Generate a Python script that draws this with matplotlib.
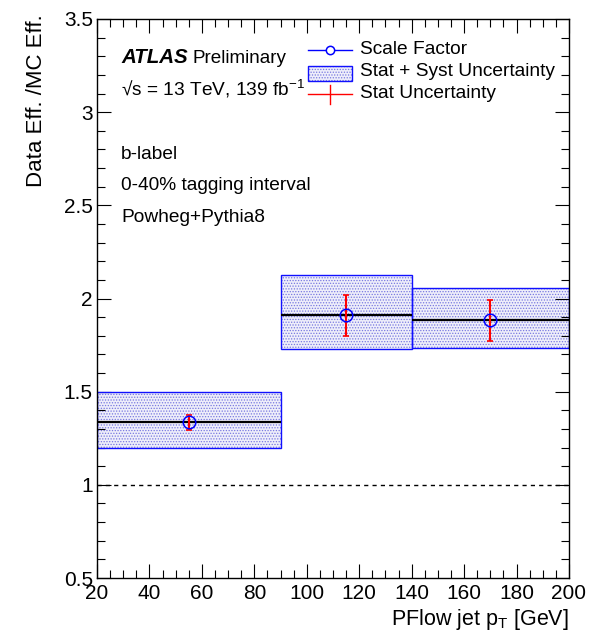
import matplotlib
matplotlib.use("Agg")
import matplotlib.pyplot as plt
from matplotlib.lines import Line2D
from matplotlib.patches import Rectangle
import numpy as np

plt.rcParams['font.family'] = ['Liberation Sans', 'DejaVu Sans']
plt.rcParams['hatch.linewidth'] = 0.6

# ---- data ----
bin_edges = [20, 90, 140, 200]
scale_factor = [1.335, 1.910, 1.883]
total_up = [1.496, 2.125, 2.055]
total_down = [1.200, 1.730, 1.737]
stat_err = [0.04, 0.11, 0.11]
xticks = [20, 40, 60, 80, 100, 120, 140, 160, 180, 200]
yticks = [0.5, 1, 1.5, 2, 2.5, 3, 3.5]
ytick_labels = ['0.5', '1', '1.5', '2', '2.5', '3', '3.5']

W, H = 590, 639
fig = plt.figure(figsize=(W / 100, H / 100), dpi=100)
ax = fig.add_axes([97 / W, 1 - 578 / H, (569 - 97) / W, (578 - 19) / H])

edges = np.array(bin_edges, dtype=float)
lefts = edges[:-1]
widths = np.diff(edges)
centers = lefts + widths / 2
sf = np.array(scale_factor)
up = np.array(total_up)
dn = np.array(total_down)

# stat+syst band
ax.bar(lefts, up - dn, bottom=dn, width=widths, align='edge',
       facecolor='#eeeefa', edgecolor='#7878e0', hatch='......', linewidth=0, zorder=1)
ax.bar(lefts, up - dn, bottom=dn, width=widths, align='edge',
       facecolor='none', edgecolor='#1010ff', linewidth=1.0, zorder=2)
# central lines
ax.hlines(sf, lefts, lefts + widths, colors='black', linewidth=1.6, zorder=3)
# reference line
ax.axhline(1.0, color='black', linestyle=(0, (3, 3)), linewidth=1.0, zorder=2)
# stat errors
ax.errorbar(centers, sf, yerr=stat_err, fmt='none', ecolor='#ff0000',
            elinewidth=1.5, capsize=2.5, capthick=1.2, zorder=4)
ax.plot(centers, sf, linestyle='none', marker='o', markersize=9,
        markerfacecolor='none', markeredgecolor='#0000ff', markeredgewidth=1.1, zorder=5)

ax.set_xlim(20, 200)
ax.set_ylim(0.5, 3.5)
ax.set_xticks(xticks)
ax.set_xticklabels([str(v) for v in xticks])
ax.set_yticks(yticks)
ax.set_yticklabels(ytick_labels)
ax.set_xticks(np.arange(20, 201, 5), minor=True)
ax.set_yticks(np.arange(0.5, 3.51, 0.1), minor=True)
ax.tick_params(which='both', direction='in', top=True, right=True, labelsize=15)
ax.tick_params(which='major', length=10, width=0.8)
ax.tick_params(which='minor', length=5.5, width=0.8)
ax.tick_params(axis='x', pad=4)
ax.tick_params(axis='y', pad=3)
for s in ax.spines.values():
    s.set_linewidth(1.0)

def px(x, y):
    return x / W, 1 - y / H

fig.text(*px(569, 620), r'PFlow jet p$_{\mathregular{T}}$ [GeV]', ha='right', va='center', fontsize=15.5)
fig.text(*px(37, 14), 'Data Eff. /MC Eff.', rotation=90, ha='center', va='top', fontsize=16)

# ATLAS labels
fig.text(*px(121, 63), 'ATLAS', fontsize=14.8, fontweight='bold', fontstyle='italic', va='baseline', ha='left')
fig.text(*px(192, 63), 'Preliminary', fontsize=13.6, va='baseline', ha='left')
fig.text(*px(121, 95), '\u221as = 13 TeV, 139 fb$^{\\mathregular{-1}}$', fontsize=13.8, va='baseline', ha='left')
fig.text(*px(121, 155), 'b-label', fontsize=13.8, va='center', ha='left')
fig.text(*px(121, 186), '0-40% tagging interval', fontsize=13.8, va='center', ha='left')
fig.text(*px(121, 217), 'Powheg+Pythia8', fontsize=13.8, va='center', ha='left')

# legend
tf = fig.transFigure
y1, y2, y3 = 50, 72, 94
fig.add_artist(Line2D([308 / W, 352 / W], [1 - y1 / H] * 2, color='#0000ff', linewidth=1.0, transform=tf))
fig.add_artist(Line2D([330 / W], [1 - y1 / H], marker='o', markersize=6, markerfacecolor='white',
                      markeredgecolor='#0000ff', markeredgewidth=1.1, transform=tf))
fig.add_artist(Rectangle((308 / W, 1 - 81 / H), 44 / W, 15 / H, facecolor='#eeeefa',
                         edgecolor='#7878e0', hatch='......', linewidth=0, transform=tf))
fig.add_artist(Rectangle((308 / W, 1 - 81 / H), 44 / W, 15 / H, facecolor='none',
                         edgecolor='#1010ff', linewidth=1.0, transform=tf))
fig.add_artist(Line2D([308 / W, 352 / W], [1 - y3 / H] * 2, color='#ff0000', linewidth=1.0, transform=tf))
fig.add_artist(Line2D([330 / W, 330 / W], [1 - 85 / H, 1 - 104 / H], color='#ff0000', linewidth=1.0, transform=tf))
fig.text(*px(360, y1), 'Scale Factor', fontsize=13.8, va='center', ha='left')
fig.text(*px(360, y2), 'Stat + Syst Uncertainty', fontsize=13.8, va='center', ha='left')
fig.text(*px(360, y3), 'Stat Uncertainty', fontsize=13.8, va='center', ha='left')

fig.savefig('out.png', dpi=100)
